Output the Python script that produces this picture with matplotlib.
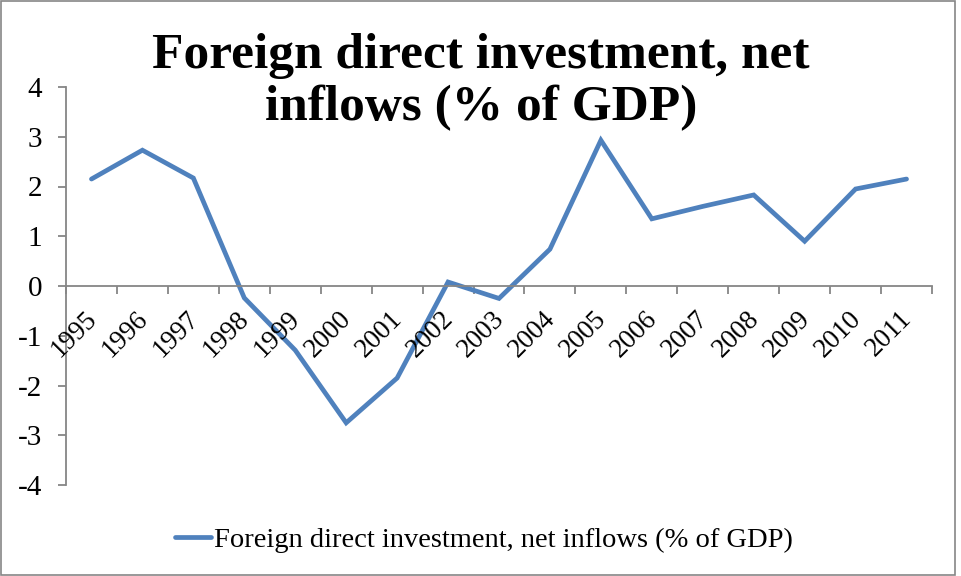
import matplotlib
matplotlib.use("Agg")
import matplotlib.pyplot as plt
from matplotlib.patches import Rectangle

years = ["1995", "1996", "1997", "1998", "1999", "2000", "2001", "2002", "2003",
         "2004", "2005", "2006", "2007", "2008", "2009", "2010", "2011"]
fdi = [2.15, 2.73, 2.17, -0.24, -1.29, -2.75, -1.85, 0.08, -0.25,
       0.74, 2.93, 1.35, 1.6, 1.83, 0.9, 1.95, 2.15]
yticks = [-4, -3, -2, -1, 0, 1, 2, 3, 4]
title = "Foreign direct investment, net\ninflows (% of GDP)"
series_name = "Foreign direct investment, net inflows (% of GDP)"

W, H = 962, 576
fig = plt.figure(figsize=(W / 100, H / 100), dpi=100)
serif = ["Liberation Serif", "DejaVu Serif"]

ax = fig.add_axes([66 / W, 1 - 485 / H, (932 - 66) / W, (485 - 87) / H])
x = list(range(len(years)))
line, = ax.plot(x, fdi, color="#4F81BD", lw=3.4, solid_joinstyle="miter",
                solid_capstyle="round")
ax.set_xlim(-0.5, len(years) - 0.5)
ax.set_ylim(-4, 4)

gray = "#868686"
for s in ["top", "right"]:
    ax.spines[s].set_visible(False)
ax.spines["left"].set_color(gray)
ax.spines["bottom"].set_color(gray)
ax.spines["bottom"].set_position(("data", 0))
ax.spines["left"].set_linewidth(1.3)
ax.spines["bottom"].set_linewidth(1.3)

ax.set_yticks(yticks)
ax.set_yticklabels([str(v) for v in yticks], fontfamily=serif, fontsize=21)
ax.tick_params(axis="y", direction="out", length=6, color=gray, width=1.3, pad=11)

ax.set_xticks([i - 0.5 for i in range(len(years) + 1)])
ax.set_xticklabels([])
ax.tick_params(axis="x", direction="out", length=6, color=gray, width=1.3)
for i, yr in enumerate(years):
    ax.annotate(yr, xy=(i, 0), xytext=(1, -21), textcoords="offset points",
                rotation=45, rotation_mode="anchor", ha="right", va="center",
                fontfamily=serif, fontsize=19.5)

fig.text(0.5, 1 - 82 / H, title, ha="center", va="center",
         fontfamily=serif, fontweight="bold", fontsize=37, linespacing=1.16)

leg = fig.legend([line], [series_name], loc="center", bbox_to_anchor=(484 / W, 1 - 540 / H),
                 frameon=False, prop={"family": serif, "size": 20.5},
                 handlelength=1.25, handletextpad=0.12)

fig.add_artist(Rectangle((0.001, 0.001), 0.992, 0.998, transform=fig.transFigure,
                         fill=False, edgecolor=gray, lw=1.2))

fig.savefig("out.png", dpi=100)
